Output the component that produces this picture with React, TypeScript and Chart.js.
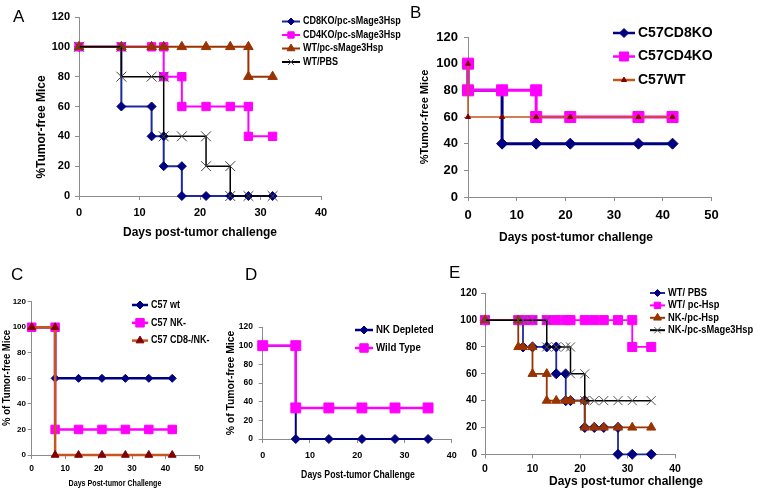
import React, { useEffect, useRef } from 'react';
import { Chart, registerables } from 'chart.js';
import { drawPoint } from 'chart.js/helpers';

Chart.register(...registerables);

const SANS = "'Liberation Sans', Arial, Helvetica, sans-serif";

// ---------------- DATA ----------------
// Panel A
const A_CD8KO_DAYS = [0, 7, 7, 12, 12, 14, 14, 17, 17, 21, 25, 28, 32];
const A_CD8KO_PCT = [100, 100, 60, 60, 40, 40, 20, 20, 0, 0, 0, 0, 0];
const A_CD4KO_DAYS = [0, 7, 12, 14, 14, 17, 17, 21, 25, 28, 28, 32];
const A_CD4KO_PCT = [100, 100, 100, 100, 80, 80, 60, 60, 60, 60, 40, 40];
const A_WT_DAYS = [0, 7, 12, 14, 17, 21, 25, 28, 28, 32];
const A_WT_PCT = [100, 100, 100, 100, 100, 100, 100, 100, 80, 80];
const A_PBS_DAYS = [0, 7, 7, 12, 14, 14, 17, 21, 21, 25, 25, 28, 32];
const A_PBS_PCT = [100, 100, 80, 80, 80, 40, 40, 40, 20, 20, 0, 0, 0];
const A_LABELS = ['CD8KO/pc-sMage3Hsp', 'CD4KO/pc-sMage3Hsp', 'WT/pc-sMage3Hsp', 'WT/PBS'];

// Panel B
const B_CD8_DAYS = [0, 0, 7, 7, 14, 21, 35, 42];
const B_CD8_PCT = [100, 80, 80, 40, 40, 40, 40, 40];
const B_CD4_DAYS = [0, 0, 7, 14, 14, 21, 35, 42];
const B_CD4_PCT = [100, 80, 80, 80, 60, 60, 60, 60];
const B_WT_DAYS = [0, 0, 7, 14, 21, 35, 42];
const B_WT_PCT = [100, 60, 60, 60, 60, 60, 60];
const B_LABELS = ['C57CD8KO', 'C57CD4KO', 'C57WT'];

// Panel C
const C_DAYS = [0, 7, 7, 14, 21, 28, 35, 42];
const C_WT_PCT = [100, 100, 60, 60, 60, 60, 60, 60];
const C_NK_PCT = [100, 100, 20, 20, 20, 20, 20, 20];
const C_CD8NK_PCT = [100, 100, 0, 0, 0, 0, 0, 0];
const C_LABELS = ['C57 wt', 'C57 NK-', 'C57 CD8-/NK-'];

// Panel D
const D_DAYS = [0, 7, 7, 14, 21, 28, 35];
const D_NKDEP_PCT = [100, 100, 0, 0, 0, 0, 0];
const D_WILD_PCT = [100, 100, 33.3, 33.3, 33.3, 33.3, 33.3];
const D_LABELS = ['NK Depleted', 'Wild Type'];

// Panel E
const E_PBS_DAYS = [0, 7, 8, 8, 10, 13, 15, 15, 17, 17, 18, 21, 21, 23, 25, 28, 28, 31, 35];
const E_PBS_PCT = [100, 100, 100, 80, 80, 80, 80, 60, 60, 40, 40, 40, 20, 20, 20, 20, 0, 0, 0];
const E_HSP_DAYS = [0, 7, 8, 10, 13, 15, 17, 18, 21, 23, 25, 28, 31, 31, 35];
const E_HSP_PCT = [100, 100, 100, 100, 100, 100, 100, 100, 100, 100, 100, 100, 100, 80, 80];
const E_NKHSP_DAYS = [0, 7, 7, 8, 10, 10, 13, 13, 15, 17, 18, 21, 21, 23, 25, 28, 31, 35];
const E_NKHSP_PCT = [100, 100, 80, 80, 80, 60, 60, 40, 40, 40, 40, 40, 20, 20, 20, 20, 20, 20];
const E_NKMAGE_DAYS = [0, 7, 8, 10, 13, 13, 15, 17, 18, 18, 21, 21, 23, 25, 28, 31, 35];
const E_NKMAGE_PCT = [100, 100, 100, 100, 100, 80, 80, 80, 80, 60, 60, 40, 40, 40, 40, 40, 40];
const E_LABELS = ['WT/ PBS', 'WT/ pc-Hsp', 'NK-/pc-Hsp', 'NK-/pc-sMage3Hsp'];

// Axis text
const Y_TITLE_A = '%Tumor-free Mice';
const Y_TITLE_C = '% of Tumor-free Mice';
const X_TITLE_LOWER = 'Days post-tumor challenge';
const X_TITLE_UPPER = 'Days Post-tumor Challenge';

// ---------------- STYLES ----------------
const NAVY = '#000080';
const MAGENTA = '#FF00FF';
const BROWN = '#993300';
const MAROON = '#800000';
const RUST = '#C4561E';
const AXIS = '#8c8c8c';

const pts = (xs: number[], ys: number[]) => xs.map((x, i) => ({ x, y: ys[i] }));

function series(label: string, xs: number[], ys: number[], o: any) {
  return {
    label,
    data: pts(xs, ys),
    borderColor: o.line ?? o.color,
    borderWidth: o.lw,
    pointStyle: o.style,
    pointRadius: o.r,
    pointHoverRadius: o.r,
    pointBackgroundColor: o.fill ?? o.color,
    pointBorderColor: o.pb ?? o.color,
    pointBorderWidth: o.bw ?? 1,
    tension: 0,
    fill: false,
    clip: false,
  };
}

type Font = { size: number; weight?: string; family: string; sx?: number };

const fontStr = (f: Font) => `${f.weight || 'normal'} ${f.size}px ${f.family}`;

function makeLegend(lg: any, ox: number, oy: number) {
  return {
    id: 'freeLegend',
    afterDraw(chart: any) {
      const ctx = chart.ctx;
      lg.items.forEach((it: any, i: number) => {
        const d = chart.data.datasets[it.index];
        const x = lg.x - ox;
        const y = lg.y + i * lg.dy - oy;
        ctx.save();
        ctx.setLineDash([]);
        ctx.strokeStyle = d.borderColor;
        ctx.lineWidth = lg.lw;
        ctx.beginPath();
        ctx.moveTo(x, y);
        ctx.lineTo(x + lg.len, y);
        ctx.stroke();
        ctx.fillStyle = d.pointBackgroundColor;
        ctx.strokeStyle = d.pointBorderColor;
        ctx.lineWidth = d.pointBorderWidth;
        drawPoint(ctx, { pointStyle: d.pointStyle, radius: it.r, borderWidth: d.pointBorderWidth, rotation: 0 } as any, x + lg.len / 2, y);
        ctx.restore();
        ctx.save();
        ctx.fillStyle = '#000';
        ctx.font = fontStr(lg.font);
        ctx.textAlign = 'left';
        ctx.textBaseline = 'middle';
        ctx.translate(lg.textX - ox, y);
        ctx.scale(lg.font.sx ?? 1, 1);
        ctx.fillText(d.label, 0, 0);
        ctx.restore();
      });
    },
  };
}

function makeTexts(items: any[], ox: number, oy: number) {
  return {
    id: 'freeTexts',
    afterDraw(chart: any) {
      const ctx = chart.ctx;
      items.forEach((t) => {
        ctx.save();
        ctx.translate(t.cx - ox, t.cy - oy);
        if (t.rot) ctx.rotate(t.rot);
        ctx.scale(t.font.sx ?? 1, 1);
        ctx.fillStyle = '#000';
        ctx.font = fontStr(t.font);
        ctx.textAlign = 'center';
        ctx.textBaseline = 'middle';
        ctx.fillText(t.text, 0, 0);
        ctx.restore();
      });
    },
  };
}

function buildConfig(p: any) {
  const ox = p.box.x, oy = p.box.y;
  const L = p.plot.l - ox, R = p.plot.r - ox, T = p.plot.t - oy, B = p.plot.b - oy;
  const TL = 4;
  const yt = p.yTitle;
  const yNative = !!(yt && yt.native);
  const yLeft = yNative ? yt.cx - ox - yt.font.size * 0.6 : Math.max(0, L - 45);
  const yWidth = L - yLeft;
  const yPad = L - TL - (p.yTickRight - ox);
  const xt = p.xTitle;
  const xNative = !!(xt && xt.native);
  const xBottom = xNative ? xt.cy - oy + xt.font.size * 0.6 : Math.min(p.box.h - 1, B + 35);
  const xHeight = xBottom - B;
  const xPad = p.xTickCy - oy - B - TL - p.xTickFont.size * 0.6;

  const texts: any[] = [];
  if (yt && !yNative) texts.push({ text: yt.text, cx: yt.cx, cy: yt.cy, rot: -Math.PI / 2, font: yt.font });
  if (xt && !xNative) texts.push({ text: xt.text, cx: xt.cx, cy: xt.cy, font: xt.font });

  const n = p.datasets.length;
  const datasets = p.datasets.map((d: any, i: number) => ({ ...d, order: n - i }));
  const tf = (f: Font) => ({ size: f.size, weight: f.weight, family: f.family });

  return {
    type: 'line',
    data: { datasets },
    options: {
      animation: false,
      responsive: false,
      devicePixelRatio: 1,
      events: [],
      layout: { padding: { left: yLeft, top: T, right: p.box.w - R, bottom: p.box.h - xBottom } },
      plugins: { legend: { display: false }, tooltip: { enabled: false } },
      scales: {
        x: {
          type: 'linear',
          min: 0,
          max: p.xMax,
          ticks: { stepSize: 10, font: tf(p.xTickFont), color: '#000', padding: xPad, maxRotation: 0, autoSkip: false },
          grid: { drawOnChartArea: false, drawTicks: true, tickLength: TL, color: AXIS },
          border: { color: AXIS, width: 1 },
          title: xNative
            ? { display: true, text: xt.text, font: tf(xt.font), color: '#000', padding: 0 }
            : { display: false },
          afterFit: (s: any) => { s.height = xHeight; },
        },
        y: {
          type: 'linear',
          min: 0,
          max: 120,
          ticks: { stepSize: 20, font: tf(p.yTickFont), color: '#000', padding: yPad },
          grid: { drawOnChartArea: false, drawTicks: true, tickLength: TL, color: AXIS },
          border: { color: AXIS, width: 1 },
          title: yNative
            ? { display: true, text: yt.text, font: tf(yt.font), color: '#000', padding: 0 }
            : { display: false },
          afterFit: (s: any) => { s.width = yWidth; },
        },
      },
    },
    plugins: [makeLegend(p.legend, ox, oy), makeTexts(texts, ox, oy)],
  };
}

const bold = (size: number, sx = 1): Font => ({ size, weight: 'bold', family: SANS, sx });

const PANELS: any[] = [
  {
    id: 'A',
    box: { x: 0, y: 0, w: 415, h: 250 },
    plot: { l: 79, t: 17, r: 321, b: 196 },
    xMax: 40,
    xTickFont: bold(11), yTickFont: bold(11),
    xTickCy: 212.5, yTickRight: 70,
    xTitle: { native: true, text: X_TITLE_LOWER, font: bold(12), cy: 233 },
    yTitle: { native: false, text: Y_TITLE_A, font: bold(12), cx: 42, cy: 127 },
    legend: { x: 282, len: 18, textX: 303, y: 21.5, dy: 13.5, lw: 2, font: bold(10.5, 0.86),
      items: [{ index: 0, r: 3.5 }, { index: 1, r: 4.5 }, { index: 2, r: 4.5 }, { index: 3, r: 4 }] },
    datasets: [
      series(A_LABELS[0], A_CD8KO_DAYS, A_CD8KO_PCT, { color: NAVY, line: '#1c2a9c', lw: 2, style: 'rectRot', r: 4.5 }),
      series(A_LABELS[1], A_CD4KO_DAYS, A_CD4KO_PCT, { color: MAGENTA, lw: 2, style: 'rect', r: 5.9 }),
      series(A_LABELS[2], A_WT_DAYS, A_WT_PCT, { color: BROWN, lw: 2, style: 'triangle', r: 5.5 }),
      series(A_LABELS[3], A_PBS_DAYS, A_PBS_PCT, { color: '#000', pb: '#444', lw: 1.5, style: 'crossRot', r: 7, bw: 1 }),
    ],
  },
  {
    id: 'B',
    box: { x: 405, y: 0, w: 357, h: 250 },
    plot: { l: 468, t: 37, r: 711.5, b: 197 },
    xMax: 50,
    xTickFont: bold(13), yTickFont: bold(13),
    xTickCy: 215, yTickRight: 458,
    xTitle: { native: false, text: X_TITLE_LOWER, font: bold(12), cx: 576, cy: 238 },
    yTitle: { native: true, text: Y_TITLE_A, font: bold(11), cx: 425 },
    legend: { x: 613, len: 22, textX: 638, y: 33, dy: 23.5, lw: 2.5, font: bold(14),
      items: [{ index: 0, r: 4.5 }, { index: 1, r: 6.4 }, { index: 2, r: 3 }] },
    datasets: [
      series(B_LABELS[0], B_CD8_DAYS, B_CD8_PCT, { color: NAVY, lw: 3, style: 'rectRot', r: 5.5 }),
      series(B_LABELS[1], B_CD4_DAYS, B_CD4_PCT, { color: MAGENTA, lw: 3, style: 'rect', r: 7.8 }),
      series(B_LABELS[2], B_WT_DAYS, B_WT_PCT, { color: MAROON, line: RUST, lw: 1.5, style: 'triangle', r: 3 }),
    ],
  },
  {
    id: 'C',
    box: { x: 0, y: 245, w: 250, h: 250 },
    plot: { l: 31.7, t: 301.7, r: 199, b: 455 },
    xMax: 50,
    xTickFont: bold(8.5), yTickFont: bold(8),
    xTickCy: 469, yTickRight: 26,
    xTitle: { native: false, text: X_TITLE_UPPER, font: bold(9, 0.79), cx: 115, cy: 484 },
    yTitle: { native: false, text: Y_TITLE_C, font: bold(10, 0.95), cx: 7, cy: 378 },
    legend: { x: 132, len: 16, textX: 151, y: 305, dy: 17.8, lw: 2.5, font: bold(10, 0.9),
      items: [{ index: 0, r: 4 }, { index: 1, r: 6 }, { index: 2, r: 4.5 }] },
    datasets: [
      series(C_LABELS[0], C_DAYS, C_WT_PCT, { color: NAVY, lw: 2.5, style: 'rectRot', r: 4 }),
      series(C_LABELS[1], C_DAYS, C_NK_PCT, { color: MAGENTA, lw: 2.5, style: 'rect', r: 6 }),
      series(C_LABELS[2], C_DAYS, C_CD8NK_PCT, { color: MAROON, line: RUST, lw: 2.5, style: 'triangle', r: 4.5 }),
    ],
  },
  {
    id: 'D',
    box: { x: 225, y: 245, w: 255, h: 250 },
    plot: { l: 262.7, t: 327, r: 451.7, b: 439 },
    xMax: 40,
    xTickFont: bold(9), yTickFont: bold(8.5),
    xTickCy: 456, yTickRight: 253,
    xTitle: { native: false, text: X_TITLE_UPPER, font: bold(10.5, 0.83), cx: 358, cy: 475 },
    yTitle: { native: false, text: Y_TITLE_C, font: bold(11.5, 0.9), cx: 231, cy: 383 },
    legend: { x: 355, len: 18, textX: 376, y: 330, dy: 18, lw: 2.5, font: bold(11, 0.88),
      items: [{ index: 0, r: 4 }, { index: 1, r: 6 }] },
    datasets: [
      series(D_LABELS[0], D_DAYS, D_NKDEP_PCT, { color: NAVY, lw: 2, style: 'rectRot', r: 4.5 }),
      series(D_LABELS[1], D_DAYS, D_WILD_PCT, { color: MAGENTA, lw: 2.5, style: 'rect', r: 7 }),
    ],
  },
  {
    id: 'E',
    box: { x: 440, y: 245, w: 322, h: 250 },
    plot: { l: 485, t: 293.3, r: 675, b: 454.3 },
    xMax: 40,
    xTickFont: bold(10.5), yTickFont: bold(10),
    xTickCy: 469, yTickRight: 477,
    xTitle: { native: false, text: X_TITLE_LOWER, font: bold(12), cx: 626, cy: 482 },
    yTitle: null,
    legend: { x: 650, len: 15, textX: 668, y: 293, dy: 12.4, lw: 2, font: bold(11, 0.85),
      items: [{ index: 0, r: 3.5 }, { index: 1, r: 4.5 }, { index: 2, r: 4.5 }, { index: 3, r: 4.5 }] },
    datasets: [
      series(E_LABELS[0], E_PBS_DAYS, E_PBS_PCT, { color: NAVY, line: '#1c2a9c', lw: 1.8, style: 'rectRot', r: 5 }),
      series(E_LABELS[1], E_HSP_DAYS, E_HSP_PCT, { color: MAGENTA, lw: 1.8, style: 'rect', r: 6.4 }),
      series(E_LABELS[2], E_NKHSP_DAYS, E_NKHSP_PCT, { color: BROWN, lw: 1.8, style: 'triangle', r: 5.2 }),
      series(E_LABELS[3], E_NKMAGE_DAYS, E_NKMAGE_PCT, { color: '#000', pb: '#555', lw: 1.5, style: 'crossRot', r: 6.4, bw: 1 }),
    ],
  },
];

const LETTERS = [
  { t: 'A', x: 13, y: 7 },
  { t: 'B', x: 410, y: 3 },
  { t: 'C', x: 11, y: 265 },
  { t: 'D', x: 245, y: 265 },
  { t: 'E', x: 449, y: 263 },
];

function Panel({ spec }: { spec: any }) {
  const ref = useRef<HTMLCanvasElement>(null);
  useEffect(() => {
    if (!ref.current) return;
    const chart = new Chart(ref.current, buildConfig(spec) as any);
    return () => chart.destroy();
  }, [spec]);
  return (
    <canvas
      ref={ref}
      width={spec.box.w}
      height={spec.box.h}
      style={{ position: 'absolute', left: spec.box.x, top: spec.box.y, width: spec.box.w, height: spec.box.h }}
    />
  );
}

export default function App() {
  return (
    <div style={{ position: 'absolute', left: 0, top: 0, width: 762, height: 495, background: '#fff', overflow: 'hidden' }}>
      {PANELS.map((p) => (
        <Panel key={p.id} spec={p} />
      ))}
      {LETTERS.map((l) => (
        <div
          key={l.t}
          style={{ position: 'absolute', left: l.x, top: l.y, fontFamily: SANS, fontSize: 17, lineHeight: '20px', color: '#000' }}
        >
          {l.t}
        </div>
      ))}
    </div>
  );
}
